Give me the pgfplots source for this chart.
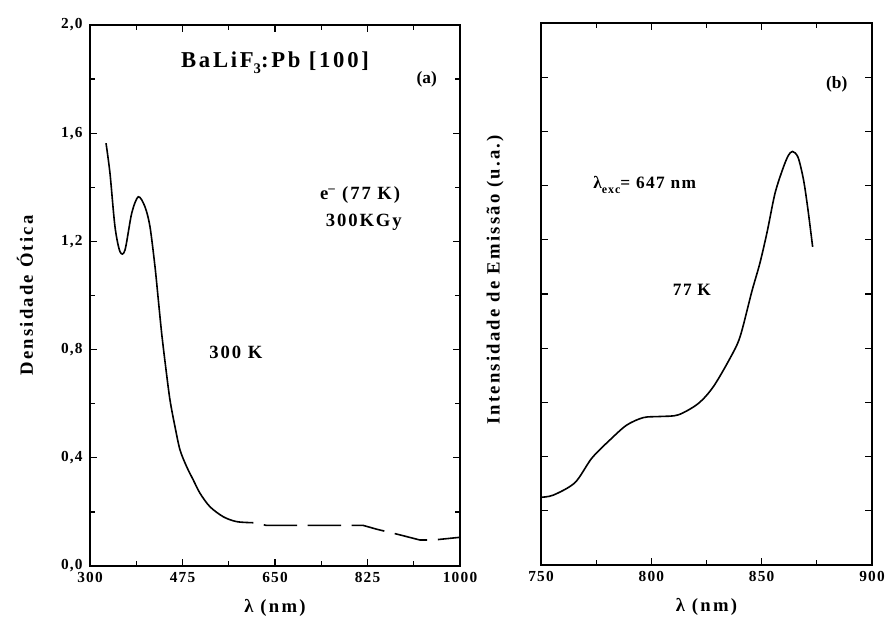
\documentclass[border=0pt]{standalone}
\usepackage{fontspec}
\setmainfont{Liberation Serif}
\usepackage{pgfplots}
\pgfplotsset{compat=1.18}
\begin{document}
\begin{tikzpicture}
\useasboundingbox (0,0) rectangle (667.5pt,469.5pt);
\pgfplotsset{every axis/.append style={
  scale only axis,
  axis line style={line width=1.2pt},
  every tick/.style={black, line width=0.9pt},
  tick align=inside, major tick length=5pt, minor tick length=4pt,
  tick label style={font=\fontsize{11.5}{13}\selectfont\bfseries\addfontfeature{LetterSpace=8}},
  xticklabel style={yshift=-1.5pt},
  yticklabel style={xshift=-2pt},
  label style={font=\fontsize{14}{16}\selectfont\bfseries\addfontfeature{LetterSpace=12}},
  /pgf/number format/assume math mode=true,
  xlabel style={at={(axis description cs:0.5,-0.078)}, anchor=center},
}}
% ---------------- panel (a)
\begin{axis}[at={(67.5pt,45pt)}, anchor=south west,
  width=277.5pt, height=405.75pt,
  xmin=300, xmax=1000, ymin=0, ymax=2,
  xtick={300,475,650,825,1000}, xticklabels={300,475,650,825,1000},
  minor xtick={387.5,562.5,737.5,912.5},
  ytick={0,0.4,0.8,1.2,1.6,2.0},
  yticklabels={{0,0},{0,4},{0,8},{1,2},{1,6},{2,0}},
  minor ytick={0.2,0.6,1.0,1.4,1.8},
  xlabel={λ (nm)}, ylabel={Densidade Ótica},
  ylabel style={at={(axis description cs:-0.176,0.5)}, anchor=center},
]
\addplot[black, line width=1.2pt, smooth, tension=0.5] coordinates {
(330.3,1.563) (337.8,1.452) (347.3,1.254) (356.8,1.162) (366.2,1.168)
(378.9,1.304) (391.4,1.365) (404,1.328) (413.5,1.254) (423,1.106)
(429.3,0.983) (435.6,0.860) (443.1,0.737) (451.3,0.614) (460.8,0.515)
(470.3,0.429) (482.9,0.367) (495.4,0.318) (508.1,0.269) (527,0.219)
(552.2,0.182) (577.5,0.164) (609,0.160)};
\addplot[black, line width=1.2pt, dash pattern=on 25pt off 8pt, dash phase=25pt] coordinates {
(609,0.160) (634.3,0.150) (817,0.150) (842.4,0.136) (886.5,0.115)
(924.3,0.096) (949.5,0.096) (999.5,0.106)};
\node[font=\fontsize{17}{19}\selectfont\bfseries\addfontfeature{LetterSpace=12}] at (axis cs:650,1.86)
  {BaLiF\raisebox{-0.55ex}{\fontsize{11}{11}\selectfont 3}:Pb [100]};
\node[font=\fontsize{13}{15}\selectfont\bfseries] at (axis cs:937,1.80) {(a)};
\node[font=\fontsize{14}{16}\selectfont\bfseries\addfontfeature{LetterSpace=10}] at (axis cs:811,1.37) {e\textsuperscript{–} (77 K)};
\node[font=\fontsize{14}{16}\selectfont\bfseries\addfontfeature{LetterSpace=10}] at (axis cs:818,1.27) {300KGy};
\node[font=\fontsize{14}{16}\selectfont\bfseries\addfontfeature{LetterSpace=10}] at (axis cs:576,0.79) {300 K};
\end{axis}
% ---------------- panel (b)
\begin{axis}[at={(405.75pt,45.75pt)}, anchor=south west,
  width=248.25pt, height=406.5pt,
  xmin=750, xmax=900, ymin=0, ymax=10,
  xtick={750,800,850,900}, xticklabels={750,800,850,900},
  minor xtick={775,825,875},
  ytick={1,2,3,4,5,6,7,8,9}, yticklabels={},
  xlabel={λ (nm)}, ylabel={Intensidade de Emissão (u.a.)},
  ylabel style={at={(axis description cs:-0.139,0.526)}, anchor=center},
]
\addplot[black, line width=1.2pt, smooth, tension=0.5] coordinates {
(750,1.25) (755.6,1.29) (765.4,1.52) (773.0,1.97) (781.3,2.31)
(788.8,2.58) (796.4,2.72) (803.9,2.74) (812.2,2.77) (821.3,2.98)
(828.1,3.29) (835.6,3.81) (840.2,4.21) (845.5,5.04) (849.2,5.57)
(852.5,6.15) (856.0,6.85) (859.5,7.30) (862.0,7.55) (864.0,7.63)
(866.5,7.52) (869.0,7.10) (871.0,6.55) (873.1,5.87)};
\node[font=\fontsize{13}{15}\selectfont\bfseries] at (axis cs:884,8.86) {(b)};
\node[font=\fontsize{13}{15}\selectfont\bfseries\addfontfeature{LetterSpace=8}] at (axis cs:797,7.01)
  {λ\raisebox{-0.7ex}{\fontsize{9}{9}\selectfont exc}= 647 nm};
\node[font=\fontsize{13}{15}\selectfont\bfseries\addfontfeature{LetterSpace=8}] at (axis cs:818.4,5.07) {77 K};
\end{axis}
\end{tikzpicture}
\end{document}
